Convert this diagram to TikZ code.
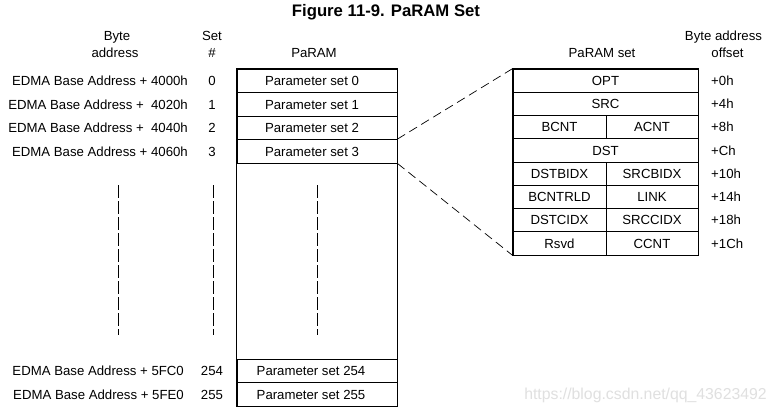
\documentclass[tikz,border=0pt]{standalone}
\usepackage{fontspec}
\setmainfont{Liberation Sans}
\begin{document}
\begin{tikzpicture}[x=1pt,y=-1pt,
  txt/.style={inner sep=0pt, text height=9.5pt, text depth=0pt, font=\fontsize{13.2}{15}\selectfont},
  cell/.style={draw, line width=0.8pt, inner sep=0pt, minimum height=23.5pt, minimum width=160pt, txt},
  rcell/.style={draw, line width=0.8pt, inner sep=0pt, minimum height=23.25pt, txt},
  full/.style={rcell, minimum width=185pt},
  lhalf/.style={rcell, minimum width=93pt},
  rhalf/.style={rcell, minimum width=92pt},
  outer/.style={draw, line width=1.7pt},
  zoomline/.style={draw, line width=0.7pt, dash pattern=on 9pt off 5pt},
  dots/.style={draw, line width=0.8pt, dash pattern=on 12.5pt off 3.5pt},
  addr/.style={txt, anchor=east},
  off/.style={txt, anchor=west}
]
\useasboundingbox (0,0) rectangle (777,413);
\fill[white] (0,0) rectangle (777,413);

% title
\node[inner sep=0pt, text height=12pt, text depth=0pt, font=\fontsize{16.7}{19}\selectfont\bfseries] (title) at (386,10) {Figure 11-9. PaRAM Set};

% headers
\node[txt] (h1) at (117,36) {Byte};
\node[txt] (h2) at (115,53) {address};
\node[txt] (h3) at (212,36) {Set};
\node[txt] (h4) at (212,53) {\#};
\node[txt] (h5) at (314,53) {PaRAM};
\node[txt] (h6) at (602,53) {PaRAM set};
\node[txt] (h7) at (723.5,36) {Byte address};
\node[txt] (h8) at (727.5,53) {offset};

% PaRAM column
\node[cell] (p0) at (317,80.75) {};
\node[cell] (p1) at (317,104.25) {};
\node[cell] (p2) at (317,127.75) {};
\node[cell] (p3) at (317,151.25) {};
\node[cell] (p254) at (317,370.75) {};
\node[cell] (p255) at (317,394.25) {};
\draw[outer] (p0.north west) rectangle (p255.south east);

\node[txt] (t0) at (312,80.75) {Parameter set 0};
\node[txt] (t1) at (312,104.25) {Parameter set 1};
\node[txt] (t2) at (312,127.75) {Parameter set 2};
\node[txt] (t3) at (312,151.25) {Parameter set 3};
\node[txt] (t254) at (311,370.75) {Parameter set 254};
\node[txt] (t255) at (311,394.25) {Parameter set 255};

% addresses
\node[addr] (a0) at (188,80.75) {EDMA Base Address + 4000h};
\node[addr] (a1) at (188,104.25) {EDMA Base Address +\ \ 4020h};
\node[addr] (a2) at (188,127.75) {EDMA Base Address +\ \ 4040h};
\node[addr] (a3) at (188,151.25) {EDMA Base Address + 4060h};
\node[addr] (a254) at (184,370.75) {EDMA Base Address + 5FC0};
\node[addr] (a255) at (184,394.25) {EDMA Base Address + 5FE0};

% set numbers
\node[txt] (s0) at (212,80.75) {0};
\node[txt] (s1) at (212,104.25) {1};
\node[txt] (s2) at (212,127.75) {2};
\node[txt] (s3) at (212,151.25) {3};
\node[txt] (s254) at (212,370.75) {254};
\node[txt] (s255) at (212,394.25) {255};

% vertical ellipsis lines
\coordinate (v1a) at (118,185); \coordinate (v1b) at (118,335);
\coordinate (v2a) at (213,185); \coordinate (v2b) at (213,335);
\coordinate (v3a) at (317,185); \coordinate (v3b) at (317,335);
\draw[dots] (v1a) -- (v1b);
\draw[dots] (v2a) -- (v2b);
\draw[dots] (v3a) -- (v3b);

% PaRAM set detail
\node[full] (r0) at (605.5,80.625) {OPT};
\node[full] (r1) at (605.5,103.875) {SRC};
\node[lhalf] (r2l) at (559.5,127.125) {BCNT};
\node[rhalf] (r2r) at (652,127.125) {ACNT};
\node[full] (r3) at (605.5,150.375) {DST};
\node[lhalf] (r4l) at (559.5,173.625) {DSTBIDX};
\node[rhalf] (r4r) at (652,173.625) {SRCBIDX};
\node[lhalf] (r5l) at (559.5,196.875) {BCNTRLD};
\node[rhalf] (r5r) at (652,196.875) {LINK};
\node[lhalf] (r6l) at (559.5,220.125) {DSTCIDX};
\node[rhalf] (r6r) at (652,220.125) {SRCCIDX};
\node[lhalf] (r7l) at (559.5,243.375) {Rsvd};
\node[rhalf] (r7r) at (652,243.375) {CCNT};
\draw[outer] (r0.north west) rectangle (r7r.south east);

% offsets
\node[off] (o0) at (711,80.625) {+0h};
\node[off] (o1) at (711,103.875) {+4h};
\node[off] (o2) at (711,127.125) {+8h};
\node[off] (o3) at (711,150.375) {+Ch};
\node[off] (o4) at (711,173.625) {+10h};
\node[off] (o5) at (711,196.875) {+14h};
\node[off] (o6) at (711,220.125) {+18h};
\node[off] (o7) at (711,243.375) {+1Ch};

% zoom connectors
\draw[zoomline] (p3.north east) -- (r0.north west);
\draw[zoomline] (p3.south east) -- (r7l.south west);

% watermark
\node[inner sep=0pt, text=black!12, font=\fontsize{15.8}{18}\selectfont] (wm) at (645.5,395) {https://blog.csdn.net/qq\_43623492};
\end{tikzpicture}
\end{document}
